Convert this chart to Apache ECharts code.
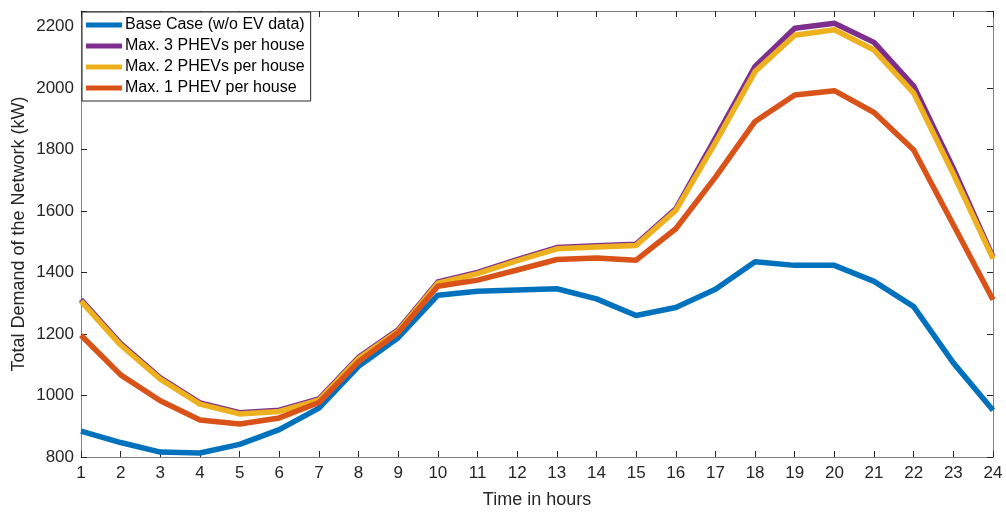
<!DOCTYPE html>
<html>
<head>
<meta charset="utf-8">
<script src="https://cdn.jsdelivr.net/npm/echarts@6/dist/echarts.min.js"></script>
<style>
  html, body { margin: 0; padding: 0; background: #ffffff; }
  #chart { width: 1006px; height: 514px; }
</style>
</head>
<body>
<div id="chart"></div>
<script>
// Hourly network demand (kW) for a day, with and without PHEV charging
const hours = [1, 2, 3, 4, 5, 6, 7, 8, 9, 10, 11, 12, 13, 14, 15, 16, 17, 18, 19, 20, 21, 22, 23, 24];
const baseCase = [884, 847, 816, 813, 841, 889, 959, 1095, 1188, 1326, 1339, 1343, 1347, 1314, 1260, 1286, 1345, 1435, 1423, 1423, 1371, 1289, 1106, 952];
const max3Phev = [1312, 1169, 1057, 976, 944, 952, 989, 1124, 1214, 1369, 1400, 1442, 1481, 1487, 1492, 1607, 1837, 2070, 2194, 2210, 2148, 2006, 1738, 1450];
const max2Phev = [1307, 1164, 1053, 972, 940, 948, 985, 1120, 1210, 1365, 1396, 1438, 1477, 1483, 1488, 1602, 1822, 2053, 2171, 2189, 2123, 1983, 1720, 1445];
const max1Phev = [1196, 1067, 983, 920, 907, 927, 977, 1110, 1205, 1355, 1375, 1408, 1442, 1447, 1440, 1542, 1710, 1891, 1977, 1991, 1920, 1798, 1555, 1311];
const seriesNames = ['Base Case (w/o EV data)', 'Max. 3 PHEVs per house', 'Max. 2 PHEVs per house', 'Max. 1 PHEV per house'];
const yTicks = [800, 1000, 1200, 1400, 1600, 1800, 2000, 2200];

const colors = ['#0072BD', '#7E2F8E', '#EDB120', '#D95319'];
const axisColor = '#262626';
const font = 'Liberation Sans, Arial, Helvetica, sans-serif';

const pairs = vals => hours.map((h, i) => [h, vals[i]]);

const chart = echarts.init(document.getElementById('chart'), null, { renderer: 'canvas' });

const tickStyle = { inside: true, length: 6, lineStyle: { color: axisColor, width: 1 } };
const lineStyle = { color: '#808080', width: 1 };

const makeLine = (name, data, color, width) => ({
  name, type: 'line', data: pairs(data), showSymbol: false, symbol: 'none',
  lineStyle: { color, width, join: 'round' }, itemStyle: { color },
  animation: false, z: 2
});

chart.setOption({
  backgroundColor: '#ffffff',
  animation: false,
  grid: { left: 81, right: 13, top: 11, bottom: 54, containLabel: false },
  legend: {
    left: 82, top: 12, orient: 'vertical',
    itemWidth: 36, itemHeight: 5, itemGap: 5,
    padding: [5, 6, 5, 4],
    backgroundColor: '#ffffff', borderColor: axisColor, borderWidth: 1, borderRadius: 0,
    icon: 'rect',
    textStyle: { fontFamily: font, fontSize: 16, color: '#000000', padding: [0, 0, 0, -2] },
    data: seriesNames
  },
  xAxis: [{
    type: 'value', min: 1, max: 24, interval: 1, position: 'bottom',
    name: 'Time in hours', nameLocation: 'middle', nameGap: 34, nameMoveOverlap: false,
    nameTextStyle: { fontFamily: font, fontSize: 18, color: axisColor },
    axisLine: { show: true, lineStyle },
    axisTick: tickStyle,
    axisLabel: { fontFamily: font, fontSize: 17, color: axisColor, margin: 8 },
    splitLine: { show: false }
  }, {
    type: 'value', min: 1, max: 24, interval: 1, position: 'top',
    axisLine: { show: true, lineStyle },
    axisTick: tickStyle, axisLabel: { show: false }, splitLine: { show: false }
  }],
  yAxis: [{
    type: 'value', min: 800, max: 2250, interval: 200, position: 'left',
    name: 'Total Demand of the Network (kW)', nameLocation: 'middle', nameGap: 53, nameMoveOverlap: false,
    nameTextStyle: { fontFamily: font, fontSize: 18, color: axisColor },
    axisLine: { show: true, lineStyle },
    axisTick: tickStyle,
    axisLabel: {
      fontFamily: font, fontSize: 17, color: axisColor, margin: 7,
      formatter: v => (yTicks.includes(v) ? String(v) : '')
    },
    splitLine: { show: false }
  }, {
    type: 'value', min: 800, max: 2250, interval: 200, position: 'right',
    axisLine: { show: true, lineStyle },
    axisTick: tickStyle, axisLabel: { show: false }, splitLine: { show: false }
  }],
  series: [
    makeLine(seriesNames[0], baseCase, colors[0], 5.5),
    makeLine(seriesNames[1], max3Phev, colors[1], 5.5),
    makeLine(seriesNames[2], max2Phev, colors[2], 5.5),
    makeLine(seriesNames[3], max1Phev, colors[3], 5.5)
  ]
});
</script>
</body>
</html>
